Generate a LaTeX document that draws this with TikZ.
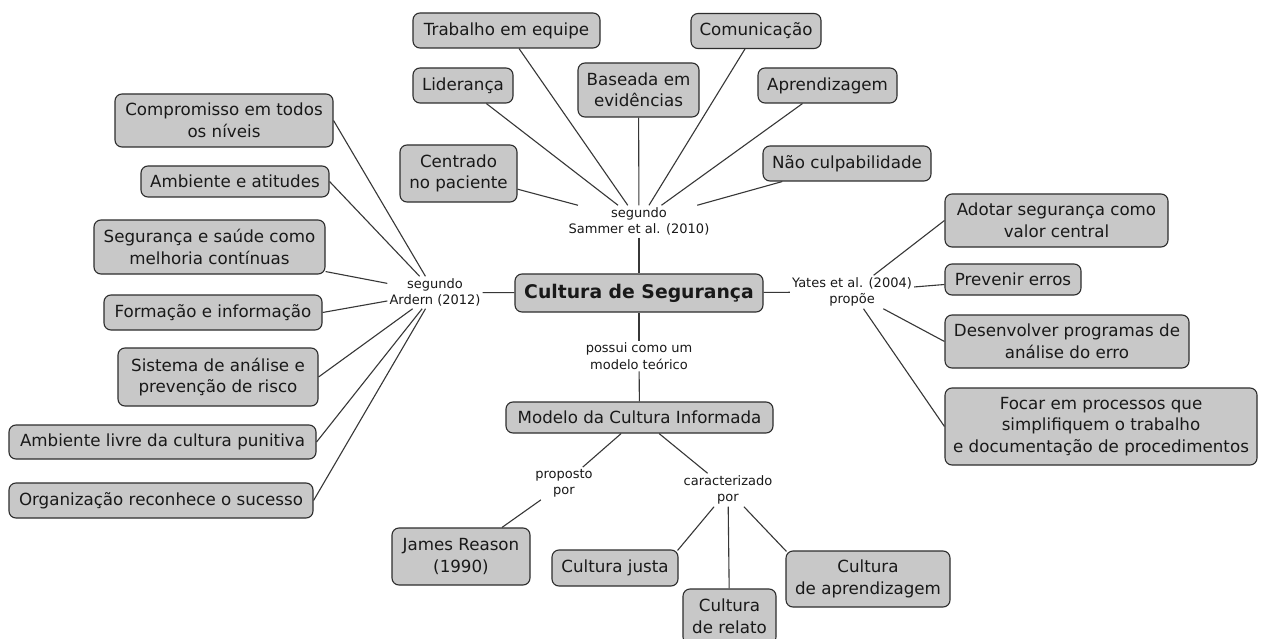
\documentclass[tikz,border=0pt]{standalone}
\usepackage{fontspec}
\setmainfont{DejaVu Sans}
\definecolor{boxfill}{RGB}{200,200,200}
\definecolor{edgec}{RGB}{45,45,45}
\definecolor{txtc}{RGB}{25,25,25}
\definecolor{connc}{RGB}{55,55,55}
\begin{document}
\begin{tikzpicture}[x=1pt,y=-1pt,
  box/.style={draw=edgec, fill=boxfill, line width=1.1pt, rounded corners=7pt, align=center, inner sep=0pt, text=txtc, font=\fontsize{16.7}{21.5}\selectfont},
  sz/.style 2 args={minimum width=#1pt, minimum height=#2pt},
  titlebox/.style={font=\bfseries\fontsize{18.8}{22}\selectfont},
  lbl/.style={align=center, inner sep=2pt, text=txtc, font=\fontsize{13}{16.5}\selectfont},
  conn/.style={draw=connc, line width=1.1pt}]
\useasboundingbox (0,0) rectangle (1268,639);
\clip (0,0) rectangle (1268,639);
\fill[white] (0,0) rectangle (1268,639);

% top cluster
\node[box,sz={187}{35}] (trab) at (506.5,30.5) {Trabalho em equipe};
\node[box,sz={130}{35}] (comu) at (756,31) {Comunicação};
\node[box,sz={100}{35}] (lide) at (463,85.5) {Liderança};
\node[box,sz={121}{54}] (base) at (638.5,90) {Baseada em\\evidências};
\node[box,sz={139}{35}] (apre) at (827.5,85.5) {Aprendizagem};
\node[box,sz={117}{57}] (cent) at (458.5,173.5) {Centrado\\no paciente};
\node[box,sz={168}{35}] (naoc) at (847,163.5) {Não culpabilidade};
\node[lbl] (samm) at (639,221.5) {segundo\\Sammer et al. (2010)};

% centre
\node[box,titlebox,sz={248}{38}] (cult) at (639,293) {Cultura de Segurança};

% left cluster
\node[box,sz={218}{53}] (comp) at (224,120.5) {Compromisso em todos\\os níveis};
\node[box,sz={188}{31}] (ambi) at (235,181.5) {Ambiente e atitudes};
\node[box,sz={231}{54}] (segu) at (209.5,247) {Segurança e saúde como\\melhoria contínuas};
\node[box,sz={218}{35}] (form) at (213,312.5) {Formação e informação};
\node[box,sz={200}{58}] (sist) at (218,377) {Sistema de análise e\\prevenção de risco};
\node[box,sz={307}{34}] (ambl) at (162.5,442) {Ambiente livre da cultura punitiva};
\node[box,sz={304}{35}] (orga) at (161,500.5) {Organização reconhece o sucesso};
\node[lbl] (arde) at (435,292.5) {segundo\\Ardern (2012)};

% right cluster
\node[lbl] (yate) at (852,292) {Yates et al. (2004)\\propõe};
\node[box,sz={223}{53}] (adot) at (1056.5,220.5) {Adotar segurança como\\valor central};
\node[box,sz={136}{31}] (prev) at (1013,279.5) {Prevenir erros};
\node[box,sz={244}{53}] (dese) at (1067,341.5) {Desenvolver programas de\\análise do erro};
\node[box,sz={312}{77}] (foca) at (1101,426.5) {Focar em processos que\\simplifiquem o trabalho\\e documentação de procedimentos};

% bottom cluster
\node[lbl] (poss) at (639,356) {possui como um\\modelo teórico};
\node[box,sz={267}{31}] (mode) at (639.5,417.5) {Modelo da Cultura Informada};
\node[lbl] (prop) at (564,483.5) {proposto\\por};
\node[lbl] (cara) at (728,490) {caracterizado\\por};
\node[box,sz={138}{57}] (jame) at (461,556.5) {James Reason\\(1990)};
\node[box,sz={126}{36}] (cjus) at (615,568) {Cultura justa};
\node[box,sz={93}{55}] (crel) at (729.5,616.5) {Cultura\\de relato};
\node[box,sz={164}{56}] (capr) at (868,579) {Cultura\\de aprendizagem};

% connectors: top
\draw[conn] (trab) -- (samm);
\draw[conn] (comu) -- (samm);
\draw[conn] (lide) -- (samm);
\draw[conn] (base) -- (samm);
\draw[conn] (apre) -- (samm);
\draw[conn] (cent) -- (samm);
\draw[conn] (naoc) -- (samm);
\draw[conn] (samm) -- (cult);
% left
\draw[conn] (comp.east) -- (arde);
\draw[conn] (ambi.east) -- (arde);
\draw[conn] ([yshift=3pt]segu.south east) -- (arde);
\draw[conn] (form.east) -- (arde);
\draw[conn] (sist.east) -- (arde);
\draw[conn] (ambl.east) -- (arde);
\draw[conn] (orga.east) -- (arde);
\draw[conn] (arde) -- (cult);
% right
\draw[conn] (cult) -- (yate);
\draw[conn] (yate) -- (adot.west);
\draw[conn] (yate) -- ([yshift=-5pt]prev.west);
\draw[conn] (yate) -- (dese.west);
\draw[conn] (yate) -- (foca.west);
% bottom
\draw[conn] (cult) -- (poss);
\draw[conn] (poss) -- (mode);
\draw[conn] (mode) -- (prop);
\draw[conn] (prop) -- (jame);
\draw[conn] (mode) -- (cara);
\draw[conn] (cara) -- ([xshift=-1pt,yshift=-1pt]cjus.north east);
\draw[conn] (cara) -- (crel);
\draw[conn] (cara) -- ([xshift=1pt,yshift=-1pt]capr.north west);
\end{tikzpicture}
\end{document}
